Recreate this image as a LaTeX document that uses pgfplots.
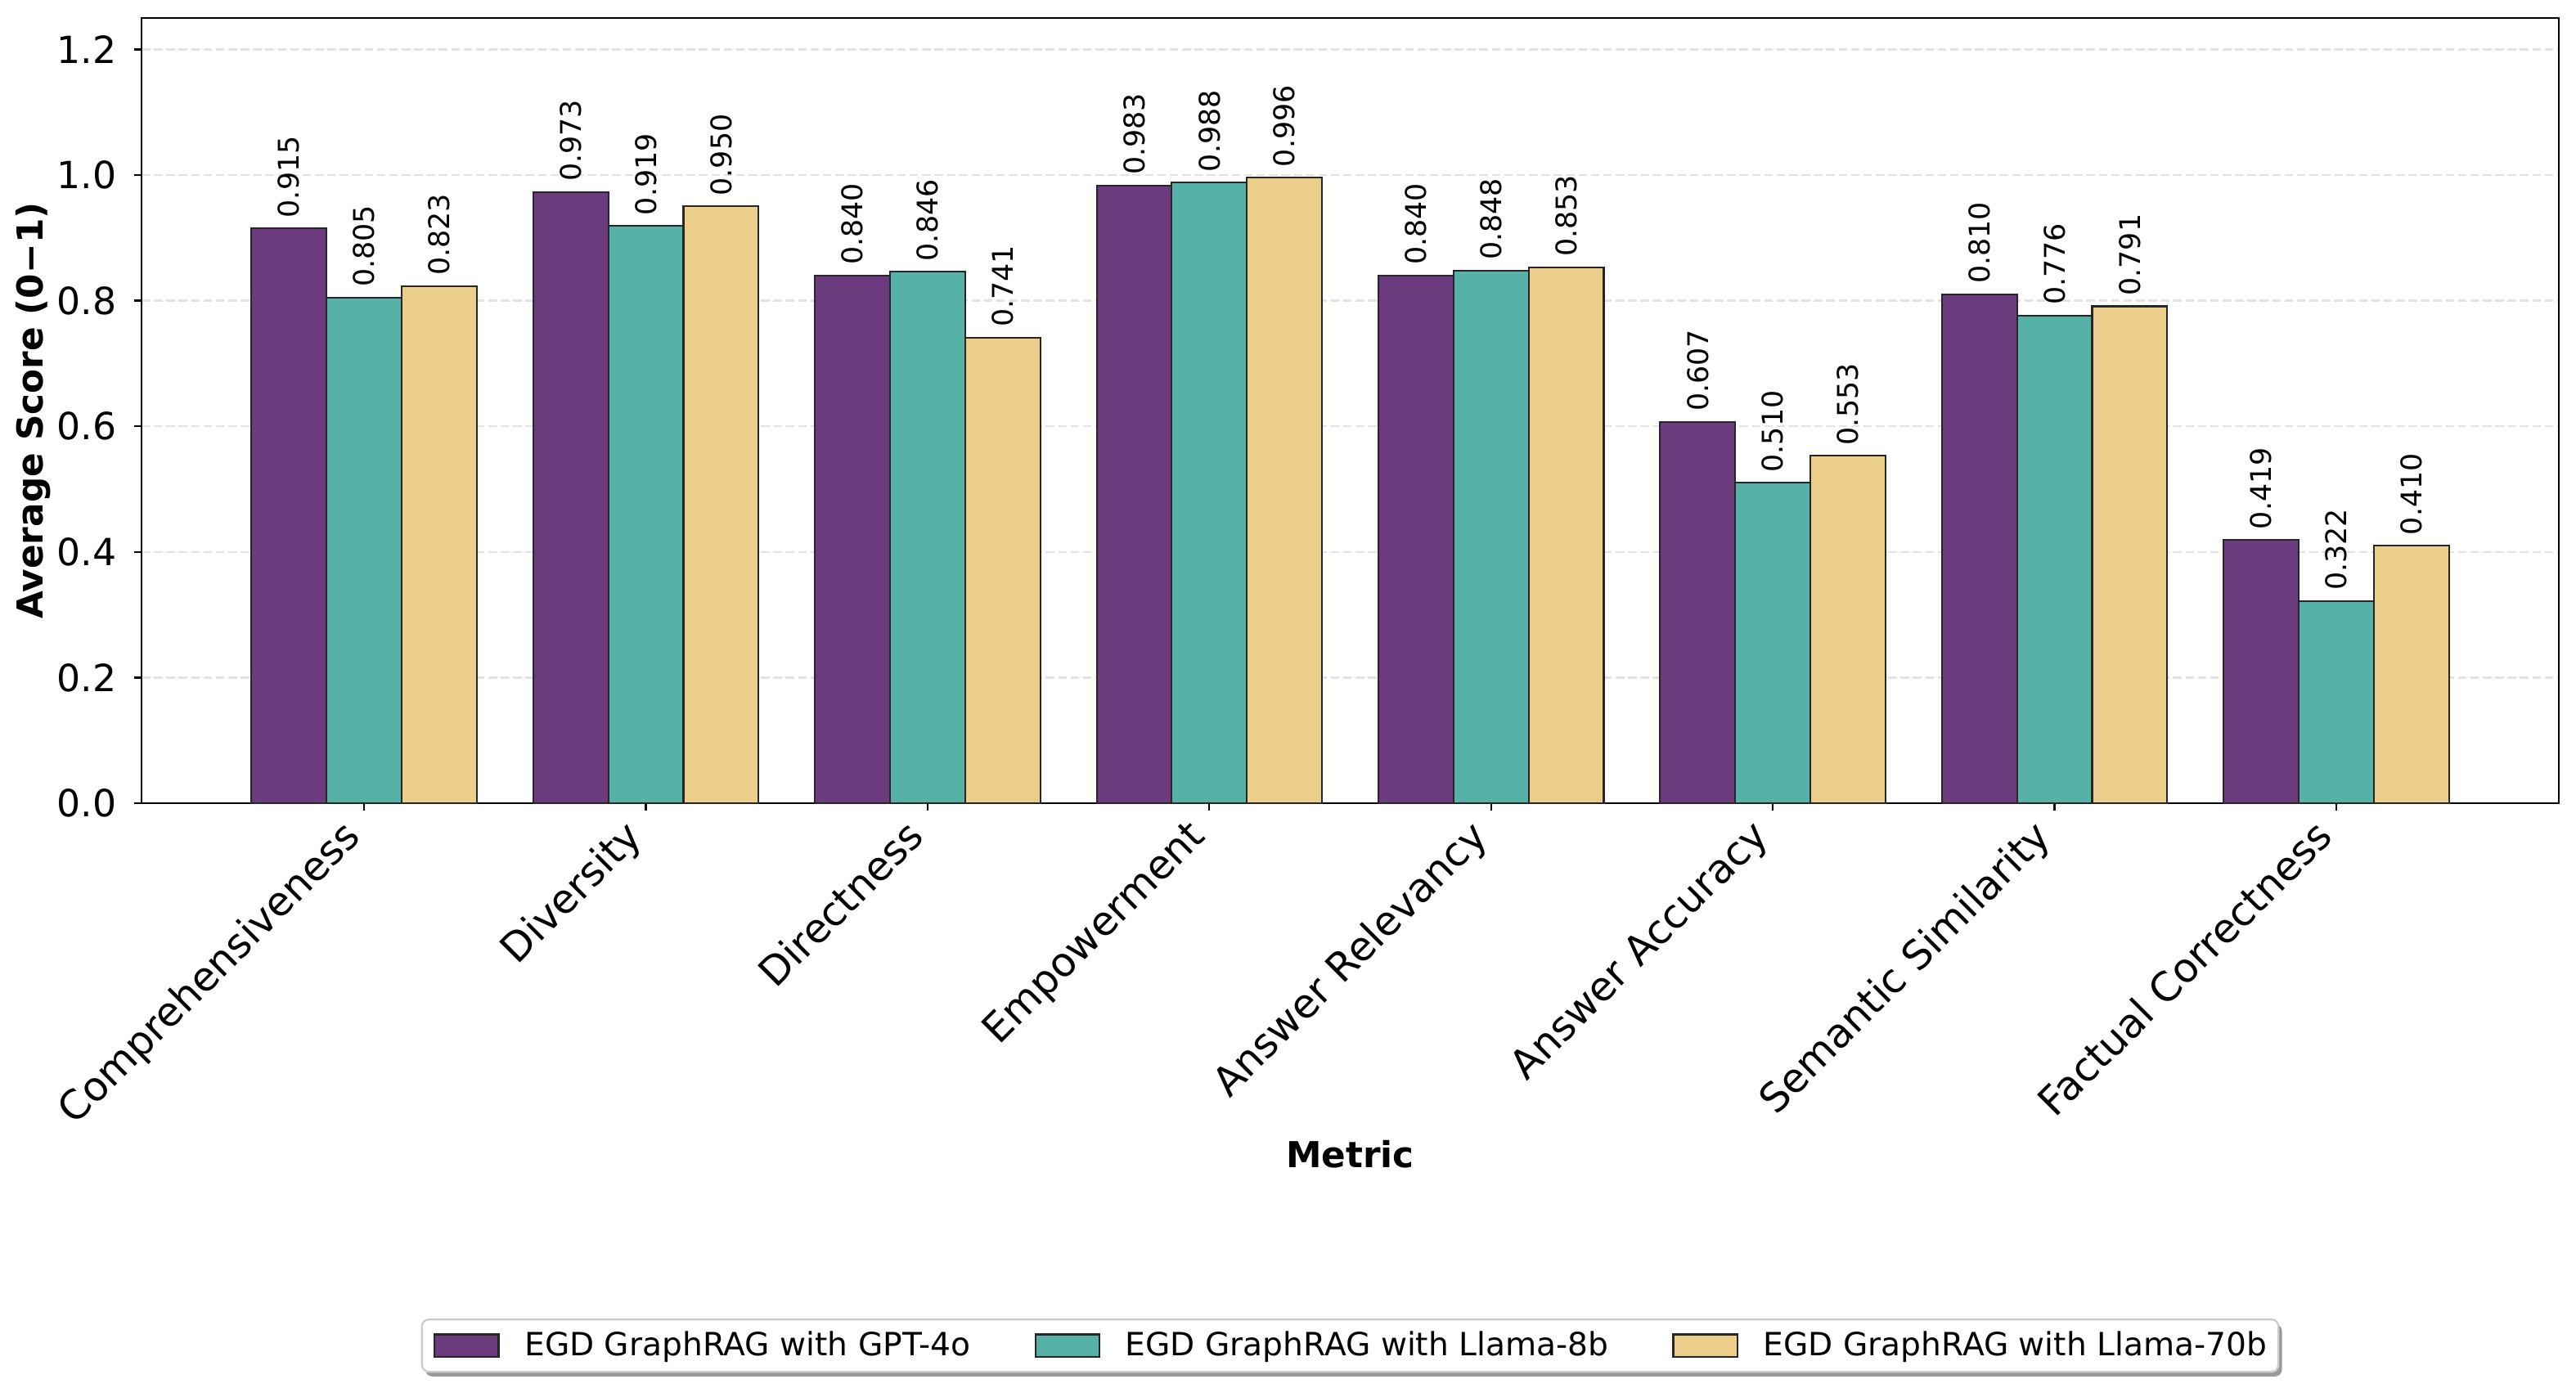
\documentclass[border=0pt]{standalone}
\usepackage{fontspec}
\setmainfont{DejaVu Sans}
\usepackage{pgfplots}
\pgfplotsset{compat=1.18}
\usepackage{pgfplotstable}
\usetikzlibrary{shadows}
\definecolor{cA}{HTML}{6B3B7E}
\definecolor{cB}{HTML}{56B2A6}
\definecolor{cC}{HTML}{EBCE89}
\definecolor{edgec}{HTML}{262626}
\definecolor{gridc}{HTML}{E3E3E3}

\makeatletter
\tikzset{no preaction/.code={\let\tikz@preactions\pgfutil@empty}}
\makeatother

\pgfplotstableread{
x a b c
0 0.915 0.805 0.823
1 0.973 0.919 0.950
2 0.840 0.846 0.741
3 0.983 0.988 0.996
4 0.840 0.848 0.853
5 0.607 0.510 0.553
6 0.810 0.776 0.791
7 0.419 0.322 0.410
}\datatable

\pgfplotsset{
  mybar/.style={fill=#1, draw=edgec, line width=0.75pt,
    legend image code/.code={\draw[no preaction, sharp corners, fill=#1, draw=edgec, line width=0.75pt] (0pt,-4.8pt) rectangle (27.4pt,4.8pt);}},
}

\begin{document}
\begin{tikzpicture}
\path[use as bounding box] (-60.55pt,-253.75pt) rectangle (1041.6pt,343.7pt);
\begin{axis}[
  at={(0,0)}, anchor=south west,
  scale only axis, width=1034.25pt, height=336pt,
  xmin=-0.79, xmax=7.79, ymin=0, ymax=1.25,
  ybar, bar width=0.26667,
  xtick={0,1,2,3,4,5,6,7},
  xticklabels={Comprehensiveness, Diversity, Directness, Empowerment, Answer Relevancy, Answer Accuracy, Semantic Similarity, Factual Correctness},
  ytick={0,0.2,0.4,0.6,0.8,1.0,1.2},
  yticklabel={\pgfmathprintnumber[fixed,fixed zerofill,precision=1]{\tick}},
  /pgf/number format/assume math mode=true,
  tick align=outside, tick pos=left,
  major tick length=3pt,
  every tick/.style={black, line width=0.8pt},
  axis line style={black, line width=0.8pt},
  ymajorgrids,
  major grid style={gridc, dash pattern=on 3.7pt off 1.6pt, line width=0.8pt},
  yticklabel style={font=\fontsize{16}{19}\selectfont, inner sep=0pt, xshift=-7.5pt},
  xticklabel style={font=\fontsize{17.2}{20}\selectfont, inner sep=0pt, xshift=-10pt, yshift=-2.8pt, rotate=45, anchor=north east},
  every axis x label/.style={at={(axis description cs:0.5,0)}, yshift=-155.75pt, anchor=base, font=\bfseries\fontsize{15.3}{18}\selectfont},
  every axis y label/.style={at={(axis description cs:0,0.5)}, xshift=-42pt, rotate=90, anchor=base, font=\bfseries\fontsize{15.3}{18}\selectfont},
  xlabel={Metric},
  ylabel={Average Score (0−1)},
  nodes near coords={\pgfmathprintnumber[fixed,fixed zerofill,precision=3]{\pgfplotspointmeta}},
  point meta=y,
  every node near coord/.append style={font=\fontsize{12.2}{14}\selectfont, rotate=90, anchor=west, inner xsep=4.2pt, inner ysep=0pt, black},
  legend columns=3,
  legend style={at={(0.5,-0.65625)}, anchor=north,
    draw=black!20, line width=0.8pt, fill=white, rounded corners=3pt,
    drop shadow={shadow xshift=1.5pt, shadow yshift=-2pt, fill=black!40, opacity=1},
    font=\fontsize{13.7}{16}\selectfont,
    inner xsep=5pt, inner ysep=5.25pt,
    nodes={inner sep=0pt},
    column sep=10.8pt,
    /tikz/every even column/.append style={column sep=27.4pt}},
]
\addplot[mybar=cA, bar shift=-0.26667] table[x=x, y=a] {\datatable};
\addlegendentry{EGD GraphRAG with GPT-4o}
\addplot[mybar=cB, bar shift=0] table[x=x, y=b] {\datatable};
\addlegendentry{EGD GraphRAG with Llama-8b}
\addplot[mybar=cC, bar shift=0.26667] table[x=x, y=c] {\datatable};
\addlegendentry{EGD GraphRAG with Llama-70b}
\end{axis}
\end{tikzpicture}
\end{document}
